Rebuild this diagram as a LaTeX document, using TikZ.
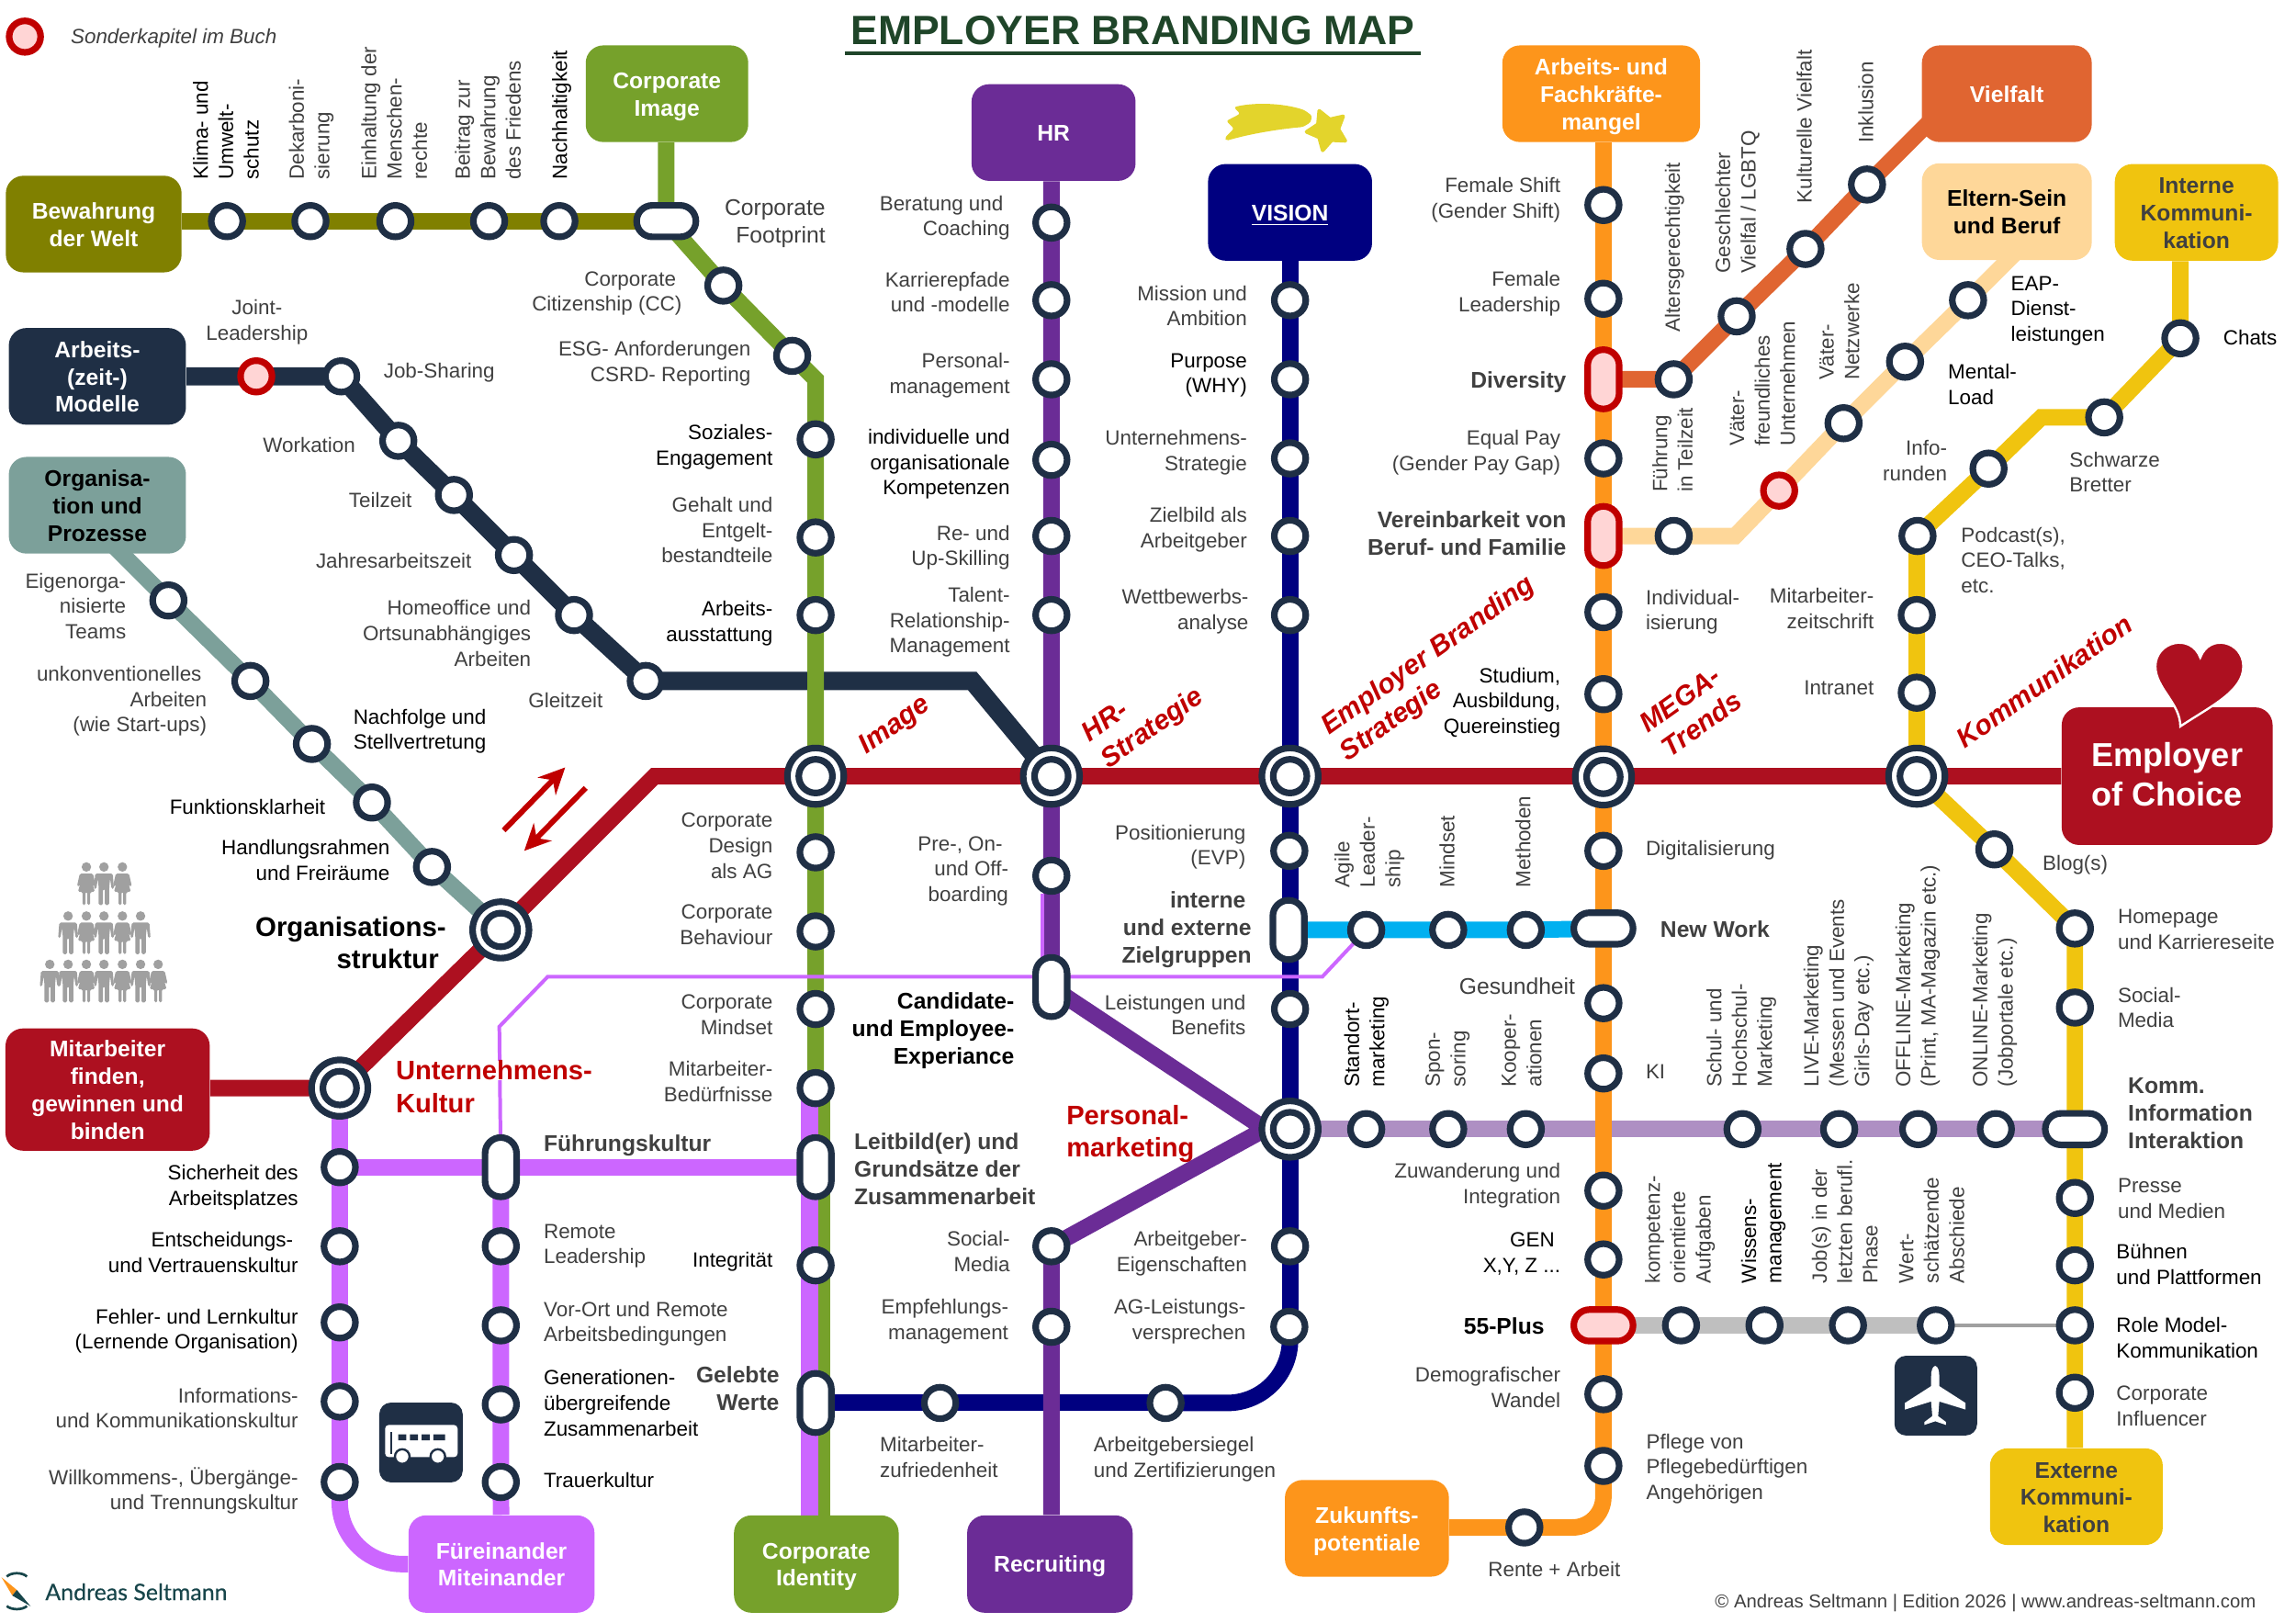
\documentclass[tikz,border=0pt]{standalone}
\usepackage{fontspec}
\setmainfont{Liberation Sans}
\newfontfamily\logofont[FakeBold=0.3]{Lato}
\usepackage{xcolor}
\definecolor{cred}{HTML}{AD1020}
\definecolor{cdeep}{HTML}{C00000}
\definecolor{cdark}{HTML}{1F2F45}
\definecolor{colive}{HTML}{808000}
\definecolor{cgreen}{HTML}{76A12B}
\definecolor{cpurple}{HTML}{6B2C96}
\definecolor{cnavy}{HTML}{000080}
\definecolor{corange}{HTML}{FD951B}
\definecolor{cviel}{HTML}{E06531}
\definecolor{cpeach}{HTML}{FED799}
\definecolor{cyellow}{HTML}{F0C40F}
\definecolor{cteal}{HTML}{7CA09A}
\definecolor{cpink}{HTML}{CC66FF}
\definecolor{cblue}{HTML}{00B0F0}
\definecolor{clilac}{HTML}{AE8FC3}
\definecolor{cgrey}{HTML}{BFBFBF}
\definecolor{cthin}{HTML}{A0A0A0}
\definecolor{cstar}{HTML}{E3D42C}
\definecolor{crose}{HTML}{FFD5D5}
\definecolor{ctext}{HTML}{404040}
\definecolor{ctitle}{HTML}{1F4529}
\definecolor{clogo}{HTML}{17454A}
\usetikzlibrary{positioning,arrows.meta,backgrounds,shapes.geometric}
\newcommand{\toph}{\rule{0pt}{9.8pt}}

\begin{document}
\begin{tikzpicture}[
  x=0.2mm, y=-0.2mm,
  lab/.style={font=\fontsize{8}{9.85}\selectfont, text=ctext, inner sep=0pt,
              execute at begin node=\strut, execute at end node=\strut},
  big/.style={font=\fontsize{8.8}{10.7}\selectfont},
  bld/.style={font=\fontsize{8.8}{10.7}\selectfont\bfseries},
  blk/.style={text=black},
  labl/.style={lab, anchor=east, align=right, yshift=-0.4mm},
  labr/.style={lab, anchor=west, align=left, yshift=-0.4mm},
  labv/.style={lab, rotate=90, anchor=west, align=left, yshift=-0.35mm},
  redt/.style={inner sep=0pt, text=cdeep, font=\fontsize{10.4}{12.5}\selectfont\bfseries, align=left},
  redr/.style={inner sep=0pt, text=cdeep, font=\fontsize{10.7}{12.6}\selectfont\bfseries\itshape, align=left},
  tbox/.style={rounded corners=2.4mm, align=center, inner sep=0pt, text=white,
               font=\fontsize{8.8}{10.6}\selectfont\bfseries,
               execute at begin node={\rule{0pt}{9.7pt}}, execute at end node=\strut},
  stop/.style={circle, draw=cdark, fill=white, line width=0.9mm, minimum size=4.3mm, inner sep=0pt},
  rstop/.style={stop, draw=cdeep, fill=crose},
  hub/.style={circle, draw=cdark, fill=white, line width=0.9mm, minimum size=7.7mm, inner sep=0pt,
              path picture={\draw[cdark, line width=0.9mm] (path picture bounding box.center) circle[radius=2.3mm];}},
  pillv/.style={rectangle, rounded corners=2.15mm, draw=cdark, fill=white, line width=0.9mm,
                minimum width=4.3mm, minimum height=8.1mm, inner sep=0pt},
  pillh/.style={rectangle, rounded corners=2.15mm, draw=cdark, fill=white, line width=0.9mm,
                minimum width=8.1mm, minimum height=4.3mm, inner sep=0pt},
  rail/.style={line width=2.25mm},
  thinl/.style={line width=0.5mm},
  manfig/.pic={\fill[cthin] (0,3) circle[radius=0.65mm];
    \fill[cthin, rounded corners=0.2mm] (-6,7.5) -- (6,7.5) -- (6.8,18) -- (5.2,18) -- (4.2,11) -- (3.6,17) -- (3.6,29)
      -- (0.6,29) -- (0.6,18) -- (-0.6,18) -- (-0.6,29) -- (-3.6,29) -- (-3.6,17) -- (-4.2,11) -- (-5.2,18) -- (-6.8,18) -- cycle;},
  womfig/.pic={\fill[cthin] (0,3) circle[radius=0.65mm];
    \fill[cthin, rounded corners=0.2mm] (-4.5,7.5) -- (4.5,7.5) -- (6.4,16) -- (5,16.5) -- (3.2,11) -- (5.8,20) -- (2.6,20) -- (2.6,29)
      -- (0.6,29) -- (0.6,20) -- (-0.6,20) -- (-0.6,29) -- (-2.6,29) -- (-2.6,20) -- (-5.8,20) -- (-3.2,11) -- (-5,16.5) -- (-6.4,16) -- cycle;},
]
\useasboundingbox (0,0) rectangle (1568,1108.25);

% --- title and legend ---
\node[inner sep=0pt, text=ctitle, font=\fontsize{15.9}{18}\selectfont\bfseries] (title) at (773.5,21) {EMPLOYER BRANDING MAP};
\draw[ctitle, line width=0.5mm] (577,36.5) -- (970,36.5);
\node[rstop] (legend) at (17,25) {};
\node[labr, font=\fontsize{8}{9.85}\selectfont\itshape] (legendt) at (48,24.5) {Sonderkapitel im Buch};

% --- end boxes ---
\node[tbox, fill=colive, minimum width=24mm, minimum height=13.2mm] (bew) at (64,153) {\toph Bewahrung\\der Welt};
\node[tbox, fill=cdark, minimum width=24.2mm, minimum height=13.2mm] (arb) at (66.5,257) {\toph Arbeits-\\(zeit-)\\Modelle};
\node[tbox, fill=cteal, text=black, minimum width=24.2mm, minimum height=13.2mm] (org) at (66.5,345) {\toph Organisa-\\tion und\\Prozesse};
\node[tbox, fill=cgreen, minimum width=22.2mm, minimum height=13.2mm] (cimg) at (455.5,64) {\toph Corporate\\Image};
\node[tbox, fill=cpurple, minimum width=22.4mm, minimum height=13.2mm] (hr) at (719.5,90.5) {HR};
\node[tbox, fill=cnavy, minimum width=22.4mm, minimum height=13.2mm] (vis) at (881,145) {\underline{VISION}};
\node[tbox, fill=corange, minimum width=27mm, minimum height=13.2mm] (arbf) at (1093.5,64) {\toph Arbeits- und\\Fachkräfte-\\mangel};
\node[tbox, fill=cviel, minimum width=23.2mm, minimum height=13.2mm] (viel) at (1370.5,64) {Vielfalt};
\node[tbox, fill=cpeach, text=black, minimum width=23.2mm, minimum height=13.2mm] (elt) at (1370.5,144.5) {\toph Eltern-Sein\\und Beruf};
\node[tbox, fill=cyellow, text=ctext, minimum width=22.3mm, minimum height=13.2mm] (inko) at (1500,145) {\toph Interne\\Kommuni-\\kation};
\node[tbox, fill=cred, minimum width=28.8mm, minimum height=18.8mm, font=\fontsize{12.9}{15.3}\selectfont\bfseries] (eoc) at (1480,530) {\rule{0pt}{12.6pt}Employer\\of Choice};
\node[tbox, fill=cyellow, text=ctext, minimum width=23.6mm, minimum height=13.2mm] (exko) at (1418,1022) {\toph Externe\\Kommuni-\\kation};
\node[tbox, fill=corange, minimum width=22.4mm, minimum height=13.2mm] (zuk) at (933.5,1043.6) {\toph Zukunfts-\\potentiale};
\node[tbox, fill=cpurple, minimum width=22.6mm, minimum height=13.3mm] (recr) at (717,1068) {Recruiting};
\node[tbox, fill=cgreen, minimum width=22.5mm, minimum height=13.3mm] (cid) at (557.5,1068) {\toph Corporate\\Identity};
\node[tbox, fill=cpink, minimum width=25.4mm, minimum height=13.3mm] (fme) at (342.5,1068) {\toph Füreinander\\Miteinander};
\node[tbox, fill=cred, minimum width=27.9mm, minimum height=16.7mm] (mit) at (73.5,744) {\toph Mitarbeiter\\finden,\\gewinnen und\\binden};

% --- hubs ---
\node[hub] (hma) at (232,743) {};
\node[hub] (horg) at (342,635) {};
\node[hub] (himg) at (557,530) {};
\node[hub] (hhr) at (718,530) {};
\node[hub] (hes) at (881,530) {};
\node[hub] (hmt) at (1095,530.5) {};
\node[hub] (hko) at (1309,530) {};
\node[hub] (hpm) at (881,771) {};

% --- pills ---
\node[pillh] (pfoot) at (455,151) {};
\node[pillv] (pfk) at (557,797) {};
\node[pillv] (pww) at (557,958) {};
\node[pillv] (pcm) at (718,674) {};
\node[pillv] (pzg) at (880,635) {};
\node[pillh] (pnw) at (1095,634) {};
\node[pillv, draw=cdeep, fill=crose] (pdiv) at (1095,259) {};
\node[pillv, draw=cdeep, fill=crose] (pver) at (1095,366) {};
\node[pillh, draw=cdeep, fill=crose] (p55) at (1095,905) {};
\node[pillh] (pko) at (1417,771) {};
\node[pillv] (pfu) at (342,797) {};

% --- stops ---
\node[stop] (w1) at (155,151) {};
\node[stop] (w2) at (212,151) {};
\node[stop] (w3) at (270,151) {};
\node[stop] (w4) at (334,151) {};
\node[stop] (w5) at (382,151) {};
\node[stop] (g1) at (494,195) {};
\node[stop] (g2) at (541,243) {};
\node[stop] (g3) at (557,300) {};
\node[stop] (g4) at (557,367) {};
\node[stop] (g5) at (557,420) {};
\node[stop] (g6) at (557,582) {};
\node[stop] (g7) at (557,636) {};
\node[stop] (g8) at (557,689) {};
\node[stop] (g9) at (557,743) {};
\node[stop] (g10) at (557,864) {};
\node[stop] (h1) at (718,152) {};
\node[stop] (h2) at (718,205) {};
\node[stop] (h3) at (718,259) {};
\node[stop] (h4) at (718,314) {};
\node[stop] (h5) at (718,366) {};
\node[stop] (h6) at (718,420) {};
\node[stop] (h7) at (718,598) {};
\node[stop] (s1) at (718,851) {};
\node[stop] (s2) at (718,906) {};
\node[stop] (v1) at (881,205) {};
\node[stop] (v2) at (881,259) {};
\node[stop] (v3) at (881,313) {};
\node[stop] (v4) at (881,366) {};
\node[stop] (v5) at (881,420) {};
\node[stop] (v6) at (880.5,581) {};
\node[stop] (v7) at (881,689) {};
\node[stop] (v8) at (881,851) {};
\node[stop] (v9) at (880.5,906) {};
\node[stop] (n1) at (796,958) {};
\node[stop] (n2) at (642,958) {};
\node[stop] (o1) at (1095,140) {};
\node[stop] (o2) at (1095,204) {};
\node[stop] (o3) at (1095,313) {};
\node[stop] (o4) at (1095,418) {};
\node[stop] (o5) at (1095,474) {};
\node[stop] (o6) at (1095,581) {};
\node[stop] (o7) at (1095,685) {};
\node[stop] (o8) at (1095,733) {};
\node[stop] (o9) at (1095,813) {};
\node[stop] (o10) at (1095,860) {};
\node[stop] (o11) at (1095,952) {};
\node[stop] (o12) at (1095,1001) {};
\node[stop] (o13) at (1041,1043) {};
\node[stop] (f1) at (1143,259) {};
\node[stop] (f2) at (1186,216) {};
\node[stop] (f3) at (1233,170) {};
\node[stop] (f4) at (1275,126) {};
\node[stop] (p1) at (1143,366) {};
\node[rstop] (p2) at (1215,335) {};
\node[stop] (p3) at (1259,289) {};
\node[stop] (p4) at (1301,247) {};
\node[stop] (p5) at (1344,205) {};
\node[stop] (y1) at (1489,231) {};
\node[stop] (y2) at (1437,285) {};
\node[stop] (y3) at (1358,320) {};
\node[stop] (y4) at (1309.5,366) {};
\node[stop] (y5) at (1309,420) {};
\node[stop] (y6) at (1309,473) {};
\node[stop] (e1) at (1362,580) {};
\node[stop] (e2) at (1417,634) {};
\node[stop] (e3) at (1417,688) {};
\node[stop] (e4) at (1417,818) {};
\node[stop] (e5) at (1417,864) {};
\node[stop] (e6) at (1417,905) {};
\node[stop] (e7) at (1417,951) {};
\node[stop] (b1) at (933,635) {};
\node[stop] (b2) at (989,635) {};
\node[stop] (b3) at (1042,635) {};
\node[stop] (l1) at (933,771) {};
\node[stop] (l2) at (989,771) {};
\node[stop] (l3) at (1042,771) {};
\node[stop] (l4) at (1190,771) {};
\node[stop] (l5) at (1256,771) {};
\node[stop] (l6) at (1310,771) {};
\node[stop] (l7) at (1363,771) {};
\node[stop] (a1) at (1148,905) {};
\node[stop] (a2) at (1205,905) {};
\node[stop] (a3) at (1262,905) {};
\node[stop] (a4) at (1322,905) {};
\node[stop] (c1) at (232,797) {};
\node[stop] (c2) at (232,851) {};
\node[stop] (c3) at (232,903) {};
\node[stop] (c4) at (232,957) {};
\node[stop] (c5) at (232,1012) {};
\node[stop] (d1) at (342,851) {};
\node[stop] (d2) at (342,905) {};
\node[stop] (d3) at (342,959) {};
\node[stop] (d4) at (342,1012) {};
\node[rstop] (t1) at (175,257) {};
\node[stop] (t2) at (233,257) {};
\node[stop] (t3) at (272,301) {};
\node[stop] (t4) at (310,338) {};
\node[stop] (t5) at (351,379) {};
\node[stop] (t6) at (392,420) {};
\node[stop] (t7) at (441,465) {};
\node[stop] (r1) at (115,410) {};
\node[stop] (r2) at (171,465) {};
\node[stop] (r3) at (213,508) {};
\node[stop] (r4) at (254,548) {};
\node[stop] (r5) at (295,592) {};

% --- bends and loose ends ---
\coordinate (gbend) at (557,259);
\coordinate (gs) at (563,743);
\coordinate (ge) at (563,1040);
\coordinate (ks) at (553,743);
\coordinate (ke) at (553,1040);
\coordinate (pmkt) at (864,771);
\coordinate (nbend) at (881,958);
\coordinate (obend) at (1095,1043);
\coordinate (ybend) at (1394,285);
\coordinate (pbend) at (1185,366);
\coordinate (cbend) at (232,1068);
\coordinate (tbend) at (664,465);
\coordinate (rbend) at (447,530);
\coordinate (orgx) at (70,365);
\coordinate (vielx) at (1325,76);
\coordinate (eltx) at (1380,169);
\coordinate (tp1) at (712,610);
\coordinate (tp2) at (712,667);
\coordinate (tp3) at (903,667);
\coordinate (tp4) at (374,667);
\coordinate (tp5) at (341,701);
\coordinate (au1) at (344,567);
\coordinate (au2) at (386,524);
\coordinate (ad1) at (400,538);
\coordinate (ad2) at (358,581);

% --- lines ---
\begin{scope}[on background layer]
\draw[rail, cdark, line width=2.5mm] (arb) -- (t1.center) -- (t2.center) -- (t3.center) -- (t4.center) -- (t5.center) -- (t6.center) -- (t7.center) -- (tbend) -- (hhr.center);
\draw[rail, colive] (bew.east |- w1) -- (w1.center) -- (w2.center) -- (w3.center) -- (w4.center) -- (w5.center) -- (pfoot.center);
\draw[rail, cgreen] (pfoot |- cimg.south) -- (pfoot.center) -- (g1.center) -- (g2.center) -- (gbend) -- (g3.center) -- (g4.center) -- (g5.center) -- (himg.center) -- (g6.center) -- (g7.center) -- (g8.center) -- (g9.center);
\draw[cgreen, line width=1.6mm] (gs) -- (ge);
\draw[cpink, line width=2.4mm] (ks) -- (ke);
\draw[rail, cteal] (orgx) -- (r1.center) -- (r2.center) -- (r3.center) -- (r4.center) -- (r5.center) -- (horg.center);
\draw[rail, cred] (mit.east |- hma) -- (hma.center) -- (horg.center) -- (rbend) -- (himg.center) -- (hhr.center) -- (hes.center) -- (hko.center) -- (eoc);
\draw[rail, cnavy] (vis) -- (v1.center) -- (v2.center) -- (v3.center) -- (v4.center) -- (v5.center) -- (hes.center) -- (v8 |- pzg) -- (v7.center) -- (hpm.center) -- (v8.center) -- (v8 |- v9);
\draw[rail, cnavy, rounded corners=8.6mm] (v8 |- v9) -- (nbend) -- (n1.center);
\draw[rail, cnavy] (n1.center) -- (n2.center) -- (pww.center);
\draw[rail, cpurple] (h1 |- hr.south) -- (h1.center) -- (h2.center) -- (h3.center) -- (h4.center) -- (h5.center) -- (h6.center) -- (hhr.center) -- (h7.center) -- (pcm.center) -- (pmkt) -- (s1.center) -- (s2.center) -- (s2 |- recr.north);
\draw[rail, clilac] (hpm.center) -- (l1.center) -- (l2.center) -- (l3.center) -- (l4.center) -- (l5.center) -- (l6.center) -- (l7.center) -- (pko.center);
\draw[rail, corange] (o1 |- arbf.south) -- (o1.center) -- (o2.center) -- (pdiv.center) -- (o3.center) -- (pver.center) -- (o4.center) -- (o5.center) -- (hmt.center) -- (o6.center) -- (pnw.center) -- (o7.center) -- (o8.center) -- (o9.center) -- (o10.center) -- (p55.center) -- (o11.center) -- (o12.center);
\draw[rail, corange, rounded corners=4.2mm] (o12.center) -- (obend) -- (o13.center);
\draw[rail, corange] (o13.center) -- (zuk.east |- o13);
\draw[rail, cviel] (pdiv.center) -- (f1.center) -- (f2.center) -- (f3.center) -- (f4.center) -- (vielx);
\draw[rail, cpeach] (pver.center) -- (p1.center) -- (pbend) -- (p2.center) -- (p3.center) -- (p4.center) -- (p5.center) -- (eltx);
\draw[rail, cyellow] (y1 |- inko.south) -- (y1.center) -- (y2.center) -- (ybend) -- (y3.center) -- (y5 |- y4) -- (y5.center) -- (y6.center) -- (hko.center) -- (e1.center) -- (e2.center) -- (e3.center) -- (pko.center) -- (e4.center) -- (e5.center) -- (e6.center) -- (e7.center) -- (e7 |- exko.north);
\draw[rail, cblue] (pzg.center) -- (b1.center) -- (b2.center) -- (b3.center) -- (pnw.center);
\draw[rail, cgrey] (p55.center) -- (a1.center) -- (a2.center) -- (a3.center) -- (a4.center);
\draw[thinl, cthin] (a4.center) -- (e6.center);
\draw[rail, cpink] (c1.center) -- (pfu.center) -- (pfk.center);
\draw[rail, cpink] (hma.center) -- (c1.center) -- (c2.center) -- (c3.center) -- (c4.center) -- (c5.center);
\draw[rail, cpink, rounded corners=8.5mm] (c5.center) -- (cbend) -- (fme);
\draw[rail, cpink] (pfu.center) -- (d1.center) -- (d2.center) -- (d3.center) -- (d4.center) -- (fme);
\draw[thinl, cpink] (tp1) -- (tp2);
\draw[thinl, cpink] (b1.center) -- (tp3) -- (tp4) -- (tp5) -- (pfu.center);
\end{scope}
\draw[cdeep, line width=0.75mm, -{Stealth[length=3.6mm, width=3.4mm]}] (au1) -- (au2);
\draw[cdeep, line width=0.75mm, -{Stealth[length=3.6mm, width=3.4mm]}] (ad1) -- (ad2);

% --- stop labels, bewahrung ---
\node[labv, blk] (w1t) at (155,123) {Klima- und\\Umwelt-\\schutz};
\node[labv] (w2t) at (212,123) {Dekarboni-\\sierung};
\node[labv] (w3t) at (270,123) {Einhaltung der\\Menschen-\\rechte};
\node[labv] (w4t) at (334,123) {Beitrag zur\\Bewahrung\\des Friedens};
\node[labv, blk] (w5t) at (382,123) {Nachhaltigkeit};

% --- image line ---
\node[labl, big] (gft) at (564,152) {Corporate\\Footprint};
\node[labl] (g1t) at (466,199.5) {Corporate\hspace*{0.8mm}\\Citizenship (CC)};
\node[labl] (g2t) at (513,247.5) {ESG- Anforderungen\\CSRD- Reporting};
\node[labl, blk] (g3t) at (528,304.5) {Soziales-\\Engagement};
\node[labl] (g4t) at (528,362.5) {Gehalt und\\Entgelt-\\bestandteile};
\node[labl, blk] (g5t) at (528,425) {Arbeits-\\ausstattung};
\node[labl] (g6t) at (528,578) {Corporate\\Design\\als AG};
\node[labl] (g7t) at (528,632) {Corporate\\Behaviour};
\node[labl] (g8t) at (528,693.5) {Corporate\\Mindset};
\node[labl] (g9t) at (528,739) {Mitarbeiter-\\Bedürfnisse};
\node[labr, bld] (pfkt) at (583,799) {Leitbild(er) und\\Grundsätze der\\Zusammenarbeit};
\node[labl, blk] (g10t) at (528,860) {Integrität};
\node[labl, bld] (pwwt) at (532.5,949) {Gelebte\\Werte};

% --- hr line ---
\node[labl] (h1t) at (690,148) {Beratung und\hspace*{0.9mm}\\Coaching};
\node[labl] (h2t) at (690,200) {Karrierepfade\\und -modelle};
\node[labl] (h3t) at (690,255.5) {Personal-\\management};
\node[labl, blk] (h4t) at (690,316) {individuelle und\\organisationale\\Kompetenzen};
\node[labl] (h5t) at (690,373) {Re- und\\Up-Skilling};
\node[labl] (h6t) at (690,424) {Talent-\\Relationship-\\Management};
\node[labl] (h7t) at (689,594) {Pre-, On-\hspace*{0.8mm}\\und Off-\\boarding};
\node[labl, bld, blk] (pcmt) at (693,703) {Candidate-\\und Employee-\\Experiance};
\node[labl] (s1t) at (690,855) {Social-\\Media};
\node[labl] (s2t) at (689,901.5) {Empfehlungs-\\management};
\node[labr] (n2t) at (600.6,995.5) {Mitarbeiter-\\zufriedenheit};

% --- vision line ---
\node[labl] (v1t) at (852,209.5) {Mission und\\Ambition};
\node[labl, blk] (v2t) at (852,255.5) {Purpose\\(WHY)};
\node[labl] (v3t) at (852,308) {Unternehmens-\\Strategie};
\node[labl] (v4t) at (852,361) {Zielbild als\\Arbeitgeber};
\node[labl] (v5t) at (853,416.5) {Wettbewerbs-\\analyse};
\node[labl] (v6t) at (851,577.5) {Positionierung\\(EVP)};
\node[labl, bld] (pzgt) at (855,634) {interne\hspace*{0.8mm}\\und externe\\Zielgruppen};
\node[labl] (v7t) at (851,693.5) {Leistungen und\\Benefits};
\node[labl] (v8t) at (852,855) {Arbeitgeber-\\Eigenschaften};
\node[labl] (v9t) at (851,901.5) {AG-Leistungs-\\versprechen};
\node[labr] (n1t) at (746.6,995.5) {Arbeitgebersiegel\\und Zertifizierungen};

% --- mega trends line ---
\node[labl] (o1t) at (1066,135.5) {Female Shift\\(Gender Shift)};
\node[labl] (o2t) at (1066,199.5) {Female\\Leadership};
\node[labl, bld] (pdivt) at (1070,259) {Diversity};
\node[labl] (o3t) at (1066,308) {Equal Pay\\(Gender Pay Gap)};
\node[labl, bld] (pvert) at (1070,365) {Vereinbarkeit von\\Beruf- und Familie};
\node[labl, blk] (o5t) at (1066,479) {Studium,\\Ausbildung,\\Quereinstieg};
\node[labr] (o4t) at (1123.6,417) {Individual-\\isierung};
\node[labr] (o6t) at (1123.6,578.5) {Digitalisierung};
\node[labr, bld] (pnwt) at (1133.6,634.5) {New Work};
\node[labl, big] (o7t) at (1076,673) {Gesundheit};
\node[labr] (o8t) at (1123.6,731) {KI};
\node[labl] (o9t) at (1066,808.5) {Zuwanderung und\\Integration};
\node[labl, blk] (o10t) at (1066,856) {GEN\hspace*{0.8mm}\\X,Y, Z ...};
\node[labl, bld, blk] (p55t) at (1055,905) {55-Plus};
\node[labl] (o11t) at (1066,948) {Demografischer\\Wandel};
\node[labr] (o12t) at (1124,1002) {Pflege von\\Pflegebedürftigen\\Angehörigen};
\node[labr] (o13t) at (1016,1071) {Rente + Arbeit};

% --- vielfalt and eltern ---
\node[labv] (f1t) at (1142,227) {Altersgerechtigkeit};
\node[labv] (f2t) at (1186,187) {Geschlechter\\Vielfal / LGBTQ};
\node[labv] (f3t) at (1232,139) {Kulturelle Vielfalt};
\node[labv] (f4t) at (1274,98) {Inklusion};
\node[labv] (p1t) at (1143,336.5) {Führung\\in Teilzeit};
\node[labv] (p2t) at (1204.5,305) {Väter-\\freundliches\\Unternehmen};
\node[labv] (p3t) at (1257,260) {Väter-\\Netzwerke};
\node[labr, blk] (p5t) at (1373,211.5) {EAP-\\Dienst-\\leistungen};
\node[labr, blk] (p4t) at (1330,263) {Mental-\\Load};

% --- kommunikation ---
\node[labr, blk] (y1t) at (1518,230) {Chats};
\node[labr] (y2t) at (1413,323) {Schwarze\\Bretter};
\node[labl] (y3t) at (1330,315) {Info-\\runden};
\node[labr] (y4t) at (1339,383) {Podcast(s),\\CEO-Talks,\\etc.};
\node[labl] (y5t) at (1280,416) {Mitarbeiter-\\zeitschrift};
\node[labl] (y6t) at (1280,469) {Intranet};
\node[labr] (e1t) at (1394.6,589) {Blog(s)};
\node[labr] (e2t) at (1446,635) {Homepage\\und Karriereseite};
\node[labr] (e3t) at (1446,688.5) {Social-\\Media};
\node[labr, bld] (pkot) at (1453,761) {Komm.\\Information\\Interaktion};
\node[labr] (e4t) at (1446,819) {Presse\\und Medien};
\node[labr, blk] (e5t) at (1445,864) {Bühnen\\und Plattformen};
\node[labr, blk] (e6t) at (1445,914) {Role Model-\\Kommunikation};
\node[labr] (e7t) at (1445,960.5) {Corporate\\Influencer};

% --- new work and personalmarketing ---
\node[labv] (b1t) at (934.6,606.4) {Agile\\Leader-\\ship};
\node[labv] (b2t) at (988,606.4) {Mindset};
\node[labv] (b3t) at (1040,606.4) {Methoden};
\node[labv, blk] (l1t) at (932.5,742.6) {Standort-\\marketing};
\node[labv] (l2t) at (988,742.6) {Spon-\\soring};
\node[labv] (l3t) at (1040,742.6) {Kooper-\\ationen};
\node[labv] (l4t) at (1188.6,742.6) {Schul- und\\Hochschul-\\Marketing};
\node[labv] (l5t) at (1255,742.6) {LIVE-Marketing\\(Messen und Events\\Girls-Day etc.)};
\node[labv] (l6t) at (1309,742.6) {OFFLINE-Marketing\\(Print, MA-Magazin etc.)};
\node[labv] (l7t) at (1361.6,742.6) {ONLINE-Marketing\\(Jobportale etc.)};
\node[labv] (a1t) at (1146.6,876.6) {kompetenz-\\orientierte\\Aufgaben};
\node[labv, blk] (a2t) at (1203.6,876.6) {Wissens-\\management};
\node[labv] (a3t) at (1260.6,876.6) {Job(s) in der\\letzten berufl.\\Phase};
\node[labv] (a4t) at (1320,876.6) {Wert-\\schätzende\\Abschiede};

% --- arbeitszeit and organisation ---
\node[lab, align=center, yshift=-0.4mm] (t1t) at (175.5,219) {Joint-\\Leadership};
\node[labr] (t2t) at (261.7,252.5) {Job-Sharing};
\node[labl] (t3t) at (243,303.5) {Workation};
\node[labl] (t4t) at (281.6,341) {Teilzeit};
\node[labl] (t5t) at (322.4,382.5) {Jahresarbeitszeit};
\node[labl] (t6t) at (363,433) {Homeoffice und\\Ortsunabhängiges\\Arbeiten};
\node[labl] (t7t) at (412,477.5) {Gleitzeit};
\node[labl] (r1t) at (86.4,414.4) {Eigenorga-\\nisierte\\Teams};
\node[labl] (r2t) at (141.5,478) {unkonventionelles\hspace*{0.7mm}\\Arbeiten\\(wie Start-ups)};
\node[labr, blk] (r3t) at (241,498.5) {Nachfolge und\\Stellvertretung};
\node[labl, blk] (r4t) at (222.5,550.5) {Funktionsklarheit};
\node[labl, blk] (r5t) at (266.5,588) {Handlungsrahmen\\und Freiräume};
\node[labl, blk, font=\fontsize{10.5}{12.5}\selectfont\bfseries] (horgt) at (305,645) {Organisations-\\struktur\hspace*{1mm}};

% --- kultur ---
\node[labl, blk] (c1t) at (204,810) {Sicherheit des\\Arbeitsplatzes};
\node[labl, blk] (c2t) at (204,855.6) {Entscheidungs-\hspace*{0.7mm}\\und Vertrauenskultur};
\node[labl, blk] (c3t) at (204,908) {Fehler- und Lernkultur\\(Lernende Organisation)};
\node[labl] (c4t) at (204,962) {Informations-\\und Kommunikationskultur};
\node[labl] (c5t) at (204,1017) {Willkommens-, Übergänge-\\und Trennungskultur};
\node[labr, bld] (pfut) at (371,780.5) {Führungskultur};
\node[labr] (d1t) at (371,850) {Remote\\Leadership};
\node[labr] (d2t) at (371,903) {Vor-Ort und Remote\\Arbeitsbedingungen};
\node[labr, blk] (d3t) at (371,958.6) {Generationen-\\übergreifende\\Zusammenarbeit};
\node[labr, blk] (d4t) at (371,1010.5) {Trauerkultur};

% --- red headings ---
\node[redt, anchor=west, fill=white] (kult1) at (270,731) {Unternehmens-};
\node[redt, anchor=west] (kult2) at (270,753) {Kultur};
\node[redt, anchor=west] (pmt) at (728,774) {Personal-\\marketing};
\node[redr, rotate=35.4] (imgt) at (611.5,495.8) {Image};
\node[redr, rotate=35.4] (hrt) at (781,489) {HR-\\Strategie};
\node[redr, rotate=35.4] (est) at (982,457) {Employer Branding\\Strategie};
\node[redr, rotate=35.4] (mtt) at (1154.5,486) {MEGA-\\\hspace*{0.5mm}Trends};
\node[redr, rotate=35.4] (kot) at (1396,465) {Kommunikation};

% --- comet ---
\fill[cstar, rounded corners=0.3mm] (842.7,73.2) .. controls (855,70) and (875,70) .. (890.8,75.2) -- (896,79) -- (895,83.6) -- (889.8,86.7)
  .. controls (875,88) and (855,91) .. (837.5,96.1) -- (836.5,94) -- (842.7,87.8) -- (837.5,82.6) -- (846.9,77.7) -- cycle;
\node[star, star points=5, star point ratio=1.9, fill=cstar, draw=cstar, line join=round, line width=0.5mm, inner sep=0pt, minimum size=5.7mm, rotate=23] (comet) at (906.5,88.8) {};

% --- heart ---
\draw[white, fill=cred, line width=0.3mm] (1489,496) .. controls (1489,480) and (1472,470) .. (1472,455)
  .. controls (1472,438) and (1496,432) .. (1502.6,449) .. controls (1509,432) and (1532,438) .. (1532,455)
  .. controls (1532,472) and (1510,482) .. (1489,496) -- cycle;

% --- people ---
\pic at (59,589) {womfig}; \pic at (71,589) {manfig}; \pic at (83.6,589) {womfig};
\pic at (46.5,622.5) {manfig}; \pic at (59,622.5) {womfig}; \pic at (71,622.5) {manfig};
\pic at (83.6,622.5) {womfig}; \pic at (96,622.5) {manfig};
\pic at (34,655.5) {manfig}; \pic at (46.5,655.5) {manfig}; \pic at (59,655.5) {womfig}; \pic at (71,655.5) {manfig};
\pic at (83.6,655.5) {womfig}; \pic at (96,655.5) {manfig}; \pic at (108,655.5) {womfig};

% --- bus ---
\node[fill=cdark, rounded corners=1.6mm, minimum width=11.4mm, minimum height=10.9mm, inner sep=0pt] (bus) at (287.5,985) {};
\fill[white, rounded corners=0.5mm] (263,973) -- (312.5,973) -- (312.5,995) -- (263,995) -- cycle;
\fill[cdark] (272,979.5) rectangle (277.5,983.5) (280,979.5) rectangle (285.5,983.5)
  (288,979.5) rectangle (293.5,983.5) (296,979.5) rectangle (304,983.5);
\fill[cdark] (266.5,978) rectangle (268,993);
\draw[cdark, fill=white, line width=0.3mm] (274.7,994.6) circle[radius=1mm] (299,994.6) circle[radius=1mm];

% --- plane ---
\node[fill=cdark, rounded corners=1.6mm, minimum width=11.3mm, minimum height=10.9mm, inner sep=0pt] (plane) at (1322,953) {};
\fill[white] (1321.6,932.7) .. controls (1323.5,933) and (1324.4,936) .. (1324.4,940) -- (1324.4,946.5) -- (1342.3,958) -- (1342.3,962.5)
  -- (1324.4,957) -- (1323.6,967) -- (1329,971) -- (1329,973) -- (1321.6,970.5) -- (1314.2,973) -- (1314.2,971) -- (1319.6,967)
  -- (1318.8,957) -- (1300.9,962.5) -- (1300.9,958) -- (1318.8,946.5) -- (1318.8,940) .. controls (1318.8,936) and (1319.7,933) .. (1321.6,932.7) -- cycle;

% --- logo and copyright ---
\fill[corange] (1,1077) -- (11.5,1085.7) -- (8.4,1089.5) -- cycle;
\fill[clogo] (11.5,1085.7) -- (20.9,1096.8) -- (8.4,1089.5) -- cycle;
\draw[clogo, line width=0.34mm] (4.6,1076.5) .. controls (8,1073.5) and (15,1073.5) .. (18.4,1076.5);
\draw[clogo, line width=0.34mm] (4.6,1096.7) .. controls (8,1099.5) and (15,1099.5) .. (18.4,1096.7);
\node[inner sep=0pt, anchor=west, text=clogo, font=\logofont\fontsize{8.9}{11}\selectfont] (logot) at (30.6,1087) {Andreas Seltmann};
\node[lab, anchor=east, font=\fontsize{7.25}{9}\selectfont, yshift=-0.3mm] (copy) at (1541,1093.5) {© Andreas Seltmann | Edition 2026 | www.andreas-seltmann.com};
\end{tikzpicture}
\end{document}
